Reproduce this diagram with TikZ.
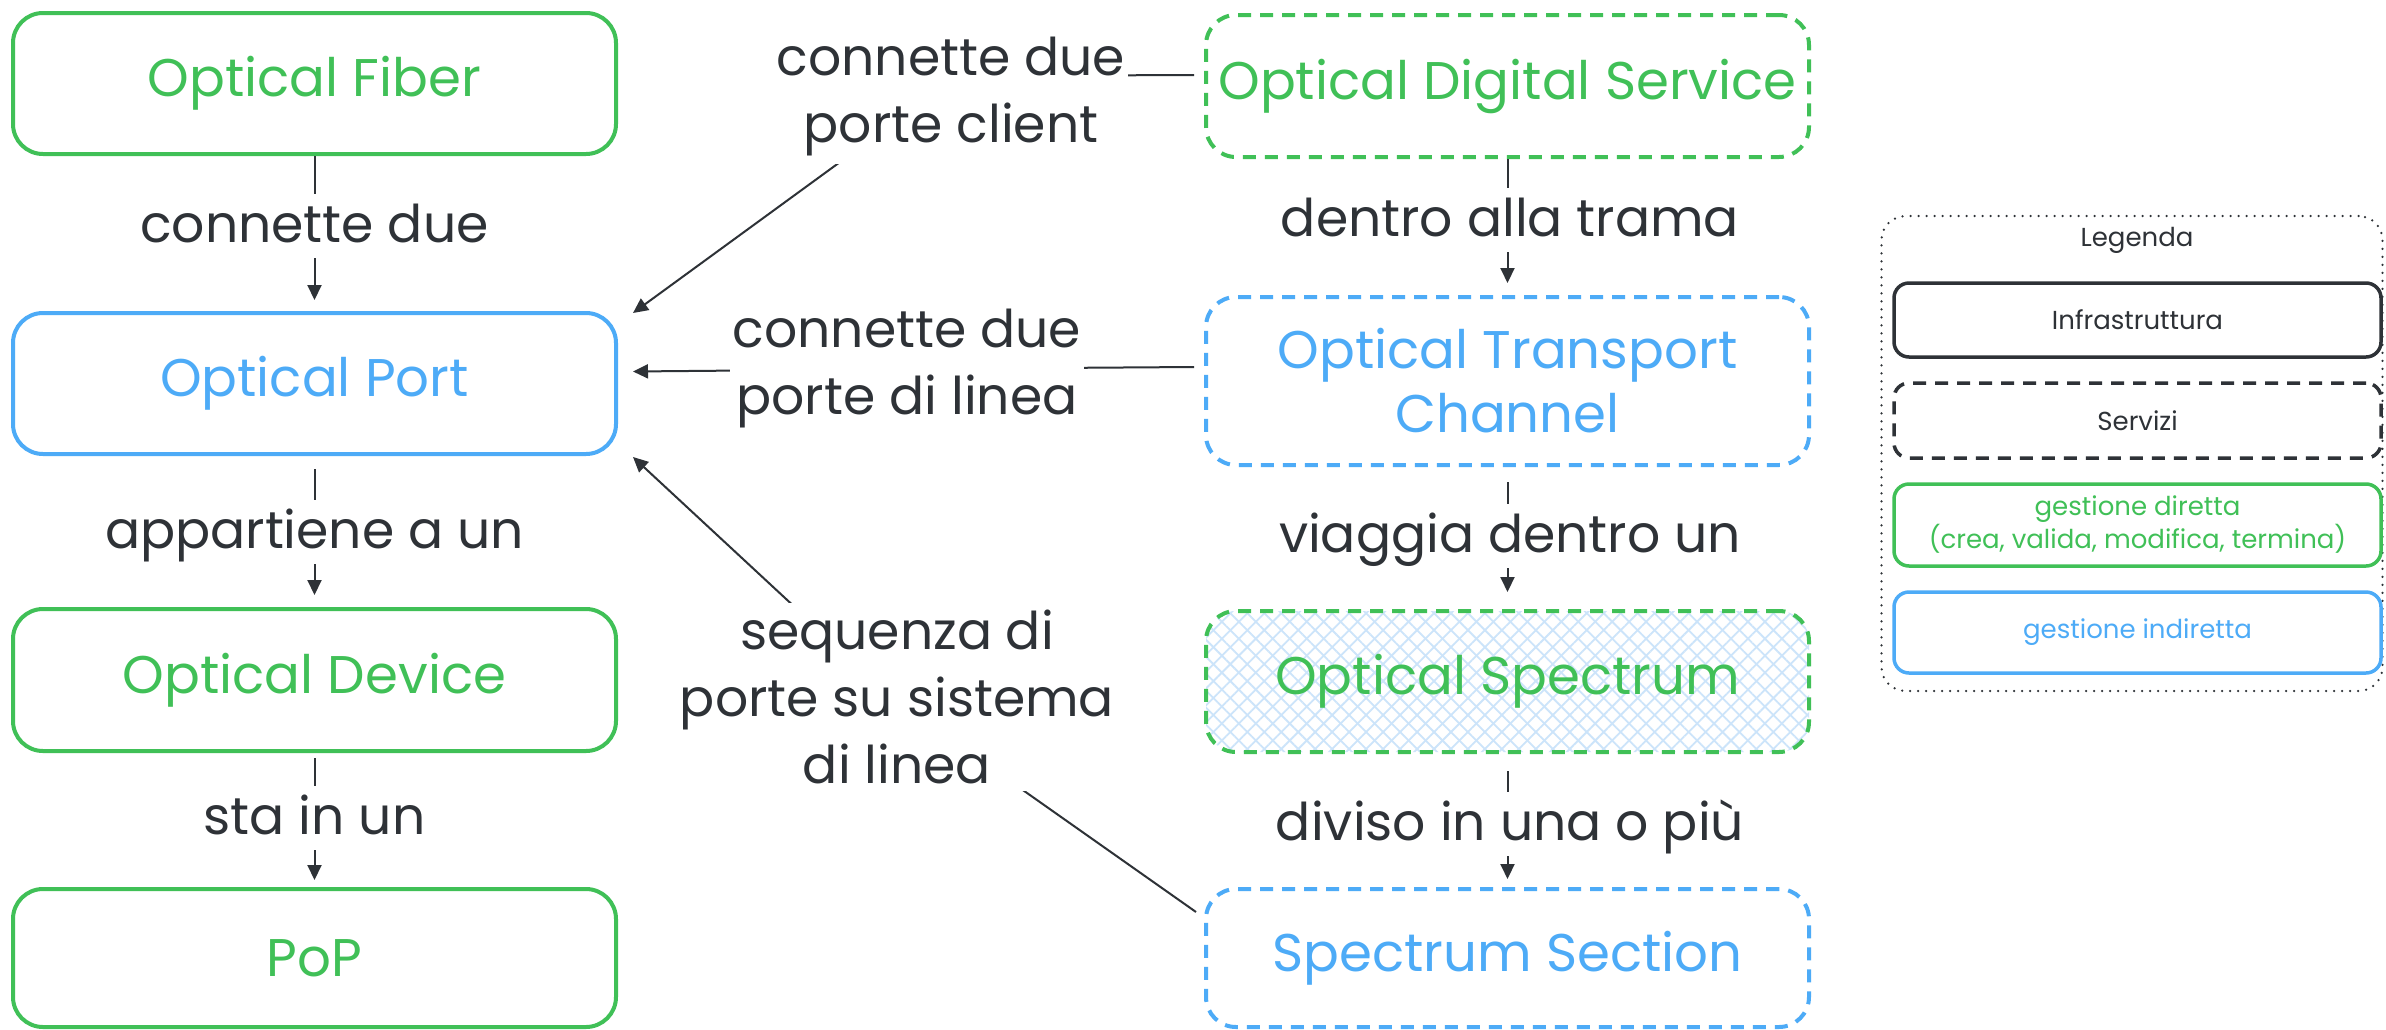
\documentclass[tikz,border=0pt]{standalone}
\usepackage{fontspec}
\setmainfont{Poppins}
\usetikzlibrary{arrows.meta,patterns.meta}
\definecolor{exgreen}{HTML}{40C057}
\definecolor{exblue}{HTML}{4DABF7}
\definecolor{exdark}{HTML}{2E3237}
\definecolor{hatchblue}{HTML}{CCE4FA}
\begin{document}
\begin{tikzpicture}[x=1pt,y=-1pt,
  every node/.style={inner sep=0pt},
  bigfont/.style={font=\fontsize{52}{64}\selectfont},
  boxfont/.style={font=\fontsize{53}{64}\selectfont},
  entity/.style={draw, line width=4pt, rounded corners=30pt, minimum width=603pt,
    minimum height=141pt, align=center, boxfont},
  service/.style={entity, dash pattern=on 13pt off 9pt},
  direct/.style={draw=exgreen, text=exgreen},
  indirect/.style={draw=exblue, text=exblue},
  flow/.style={draw=exdark, line width=2pt, -{Triangle[length=15pt,width=14pt]}},
  flowlabel/.style={fill=white, text=exdark, bigfont, inner xsep=6pt, inner ysep=8pt,
    text height=40pt, text depth=8pt},
  notelabel/.style={fill=white, text=exdark, align=center,
    font=\fontsize{52}{67}\selectfont, inner xsep=3pt, inner ysep=7pt},
  legtext/.style={font=\fontsize{26}{33}\selectfont, text=exdark, align=center},
  legbox/.style={draw, line width=3.5pt, rounded corners=15pt, minimum width=487pt, legtext},
  hatched/.style={
    preaction={pattern={Lines[angle=45,distance=12pt,line width=1.8pt]}, pattern color=hatchblue},
    preaction={pattern={Lines[angle=-45,distance=12pt,line width=1.8pt]}, pattern color=hatchblue}}
]
\useasboundingbox (0,0) rectangle (2386,1029);
\fill[white] (0,0) rectangle (2386,1029);

% infrastructure column
\node[entity, direct]   (fiber)  at (314.5, 83.5) {Optical Fiber};
\node[entity, indirect] (port)   at (314.5,383.5) {Optical Port};
\node[entity, direct, minimum height=142pt] (device) at (314.5,680) {Optical Device};
\node[entity, direct, minimum height=138pt] (pop)    at (314.5,958) {PoP};

% service column
\node[service, direct, minimum height=142pt]   (ods) at (1507.5, 86) {Optical Digital Service};
\node[service, indirect, minimum height=168pt] (otc) at (1507.5,381) {Optical Transport\\Channel};
\node[service, direct, hatched]                (os)  at (1507.5,681.5) {Optical Spectrum};
\node[service, indirect, minimum height=138pt] (ss)  at (1507.5,958) {Spectrum Section};

% vertical relations
\draw[flow, shorten >=11pt] (fiber) -- (port);
\draw[flow, shorten <=13pt, shorten >=12pt] (port) -- (device);
\draw[flow, shorten <=5pt, shorten >=7pt] (device) -- (pop);
\draw[flow, shorten >=12pt] (ods) -- (otc);
\draw[flow, shorten <=15pt, shorten >=17pt] (otc) -- (os);
\draw[flow, shorten <=17pt, shorten >=8pt] (os) -- (ss);

\node[flowlabel] (lfiber)  at (314.5,226) {connette due};
\node[flowlabel] (lport)   at (314.5,532) {appartiene a un};
\node[flowlabel] (ldevice) at (314.5,818) {sta in un};
\node[flowlabel] (lods)    at (1510,220) {dentro alla trama};
\node[flowlabel] (lotc)    at (1510,536) {viaggia dentro un};
\node[flowlabel] (los)     at (1510,824) {diviso in una o più};

% relations from the service column to the ports
\coordinate (k1) at (958,76);
\coordinate (k2) at (907,369);
\coordinate (k3) at (895,700);
\draw[flow] ([shift={(-10,-11)}]ods.west) -- (k1) -- ([shift={(15,2)}]port.north east);
\draw[flow] ([shift={(-10,-14)}]otc.west) -- (k2) -- ([shift={(15,-12)}]port.east);
\draw[flow] ([shift={(-8,-46)}]ss.west) -- (k3) -- ([shift={(15,1)}]port.south east);

\node[notelabel] (nclient) at (951,97)  {connette due\\porte client};
\node[notelabel] (nline)   at (907,369) {connette due\\porte di linea};
\node[notelabel] (nseq)    at (897,697) {sequenza di\\porte su sistema\\di linea};

% legend
\node[draw=exdark, line width=2.5pt, dash pattern=on 0pt off 8pt, line cap=round,
  rounded corners=24pt, minimum width=501pt, minimum height=475pt] (legend) at (2132,453.5) {};
\node[legtext] (legtitle) at (2137,240) {Legenda};
\node[legbox, draw=exdark, minimum height=74pt] (leginfra) at (2137.5,320) {Infrastruttura};
\node[legbox, draw=exdark, dash pattern=on 13pt off 9pt, minimum height=75pt] (legserv) at (2137.5,420.5) {Servizi};
\node[legbox, draw=exgreen, text=exgreen, minimum height=82pt] (legdir) at (2137.5,525)
  {gestione diretta\\(crea, valida, modifica, termina)};
\node[legbox, draw=exblue, text=exblue, minimum height=81pt] (legind) at (2137.5,632.5) {gestione indiretta};
\end{tikzpicture}
\end{document}
